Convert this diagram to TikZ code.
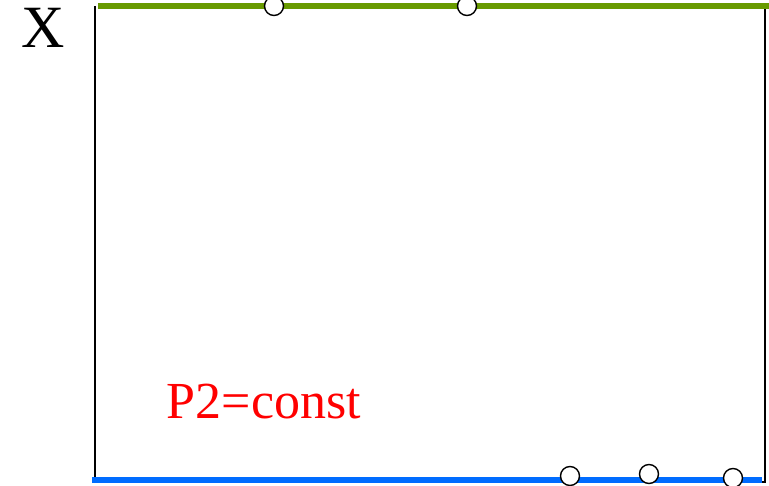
\documentclass[tikz,border=0pt]{standalone}
\usepackage{fontspec}
\setmainfont{Liberation Serif}
\newfontfamily\timesfont{Liberation Serif}
\usepackage{tikz}
\definecolor{topgreen}{RGB}{104,154,0}
\definecolor{botblue}{RGB}{0,108,255}
\tikzset{
  wall/.style={draw=black,line width=1.6pt},
  topline/.style={draw=topgreen,line width=5.5pt},
  botline/.style={draw=botblue,line width=5.5pt},
  dot/.style={circle,draw=black,fill=white,line width=1.4pt,minimum size=19pt,inner sep=0pt},
  biglabel/.style={font=\timesfont\fontsize{60}{62}\selectfont,inner sep=0pt}
}

\begin{document}
\begin{tikzpicture}[x=1pt,y=-1pt]
  \useasboundingbox (0,0) rectangle (769,486);
  % walls
  \coordinate (tl) at (95,6);
  \coordinate (bl) at (95,480);
  \coordinate (tr) at (765,8);
  \coordinate (br) at (765,482);
  \draw[wall] (tl) -- (bl);
  \draw[wall] (tr) -- (br) -- ++(-3,0);
  % boundaries
  \coordinate (gstart) at (98,6);
  \coordinate (gend) at (769,6);
  \coordinate (bstart) at (92,480);
  \coordinate (bend) at (762,480);
  \draw[topline] (gstart) -- (gend);
  \draw[botline] (bstart) -- (bend);
  % particles
  \node[dot] (t1) at (274,6) {};
  \node[dot] (t2) at (467,6) {};
  \node[dot] (b1) at (570,476) {};
  \node[dot] (b2) at (649,474) {};
  \node[dot] (b3) at (733,478) {};
  % labels
  \node[biglabel] (xlab) at (43,28) {X};
  \node[biglabel,font=\timesfont\fontsize{52}{54}\selectfont,text=red] (plab) at (264,402) {P2=const};
\end{tikzpicture}
\end{document}
